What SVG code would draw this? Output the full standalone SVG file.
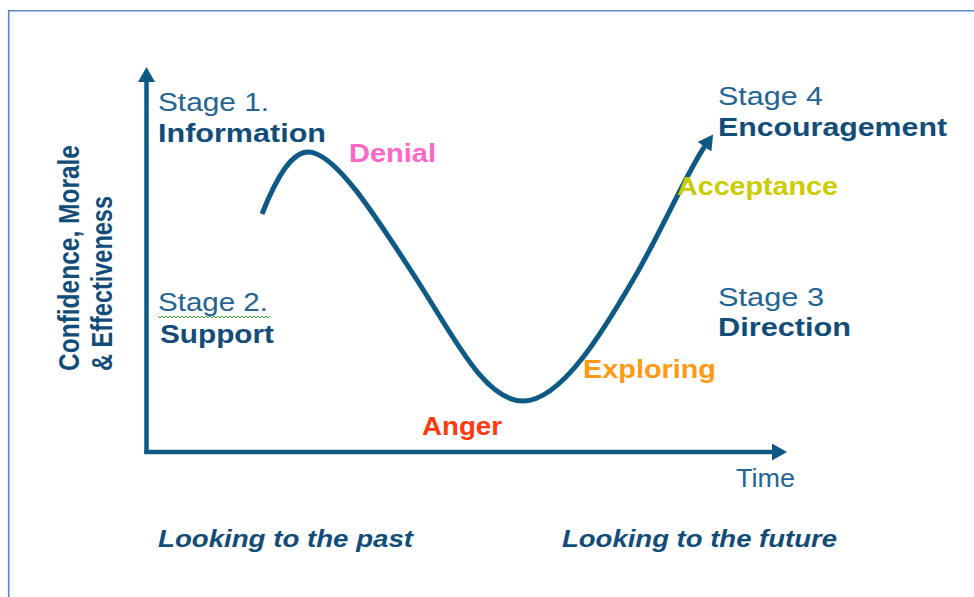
<svg xmlns="http://www.w3.org/2000/svg" width="974" height="597" viewBox="0 0 974 597">
  <defs>
    <style>
      .ln { fill: none; stroke: #0d5a86; stroke-width: 4.5; }
      .crv { fill: none; stroke: #0d5a86; stroke-width: 5; stroke-linecap: butt; }
      text { font-family: "Liberation Sans", Arial, sans-serif; font-size: 25px; }
      .reg { fill: #236595; }
      .bld { fill: #124d7a; font-weight: bold; }
      .emo { font-weight: bold; }
      .foot { fill: #124d7a; font-weight: bold; font-style: italic; font-size: 24px; }
    </style>
    <marker id="arrow" viewBox="0 0 15 17" refX="1" refY="8.5" markerWidth="15" markerHeight="17" orient="auto" markerUnits="userSpaceOnUse">
      <path d="M0,0 L15,8.5 L0,17 z" fill="#0d5a86"/>
    </marker>
  </defs>
  <rect width="974" height="597" fill="#ffffff"/>
  <path id="frame" d="M8.7,597 V10.7 H974" fill="none" stroke="#5b86c9" stroke-width="1.6"/>

  <g id="connectors">
    <path id="y-axis" class="ln" d="M146.5,454 V81" marker-end="url(#arrow)"/>
    <path id="x-axis" class="ln" d="M144.3,452 H773" marker-end="url(#arrow)"/>
    <path id="change-curve" class="crv" d="M262,214 C277,176 292,152 308,152 C335,152 375,215 417,280 C455,339 485,401 523,401 C562,401 605,328 633,280 C658,238 688,170 705,146" marker-end="url(#arrow)"/>
  </g>

  <g id="y-label">
    <text class="bld" transform="translate(79,371) scale(1.2,1) rotate(-90)" font-size="23" textLength="226" lengthAdjust="spacingAndGlyphs">Confidence,  Morale</text>
    <text class="bld" transform="translate(112,371) scale(1.2,1) rotate(-90)" font-size="23" textLength="175" lengthAdjust="spacingAndGlyphs">&amp; Effectiveness</text>
  </g>

  <g id="stage1">
    <text class="reg" x="158" y="111" textLength="111" lengthAdjust="spacingAndGlyphs">Stage 1.</text>
    <text class="bld" x="158" y="142" textLength="168" lengthAdjust="spacingAndGlyphs">Information</text>
  </g>

  <g id="stage2">
    <text class="reg" x="158" y="311" textLength="110" lengthAdjust="spacingAndGlyphs">Stage 2.</text>
    <path d="M158,316 l2,2 l2,-2 l2,2 l2,-2 l2,2 l2,-2 l2,2 l2,-2 l2,2 l2,-2 l2,2 l2,-2 l2,2 l2,-2 l2,2 l2,-2 l2,2 l2,-2 l2,2 l2,-2 l2,2 l2,-2 l2,2 l2,-2 l2,2 l2,-2 l2,2 l2,-2 l2,2 l2,-2 l2,2 l2,-2 l2,2 l2,-2 l2,2 l2,-2 l2,2 l2,-2 l2,2 l2,-2 l2,2 l2,-2 l2,2 l2,-2 l2,2 l2,-2 l2,2 l2,-2 l2,2 l2,-2 l2,2 l2,-2 l2,2 l2,-2 l2,2 l2,-2" fill="none" stroke="#3aa63a" stroke-width="1"/>
    <text class="bld" x="160" y="343" textLength="114" lengthAdjust="spacingAndGlyphs">Support</text>
  </g>

  <g id="stage3">
    <text class="reg" x="718" y="306" textLength="106" lengthAdjust="spacingAndGlyphs">Stage 3</text>
    <text class="bld" x="718" y="336" textLength="133" lengthAdjust="spacingAndGlyphs">Direction</text>
  </g>

  <g id="stage4">
    <text class="reg" x="718" y="105" textLength="105" lengthAdjust="spacingAndGlyphs">Stage 4</text>
    <text class="bld" x="718" y="136" textLength="229" lengthAdjust="spacingAndGlyphs">Encouragement</text>
  </g>

  <g id="denial">
    <text class="emo" x="349" y="162" fill="#ff66c8" textLength="87" lengthAdjust="spacingAndGlyphs">Denial</text>
  </g>
  <g id="anger">
    <text class="emo" x="422" y="435" fill="#ff3a0c" textLength="80" lengthAdjust="spacingAndGlyphs">Anger</text>
  </g>
  <g id="exploring">
    <text class="emo" x="583" y="378" fill="#ff9a12" textLength="133" lengthAdjust="spacingAndGlyphs">Exploring</text>
  </g>
  <g id="acceptance">
    <text class="emo" x="677" y="195" fill="#cccc00" textLength="161" lengthAdjust="spacingAndGlyphs">Acceptance</text>
  </g>

  <g id="time">
    <text class="reg" x="736" y="487" textLength="59" lengthAdjust="spacingAndGlyphs">Time</text>
  </g>
  <g id="past">
    <text class="foot" x="158" y="547" textLength="255" lengthAdjust="spacingAndGlyphs">Looking to the past</text>
  </g>
  <g id="future">
    <text class="foot" x="562" y="547" textLength="275" lengthAdjust="spacingAndGlyphs">Looking to the future</text>
  </g>
</svg>
